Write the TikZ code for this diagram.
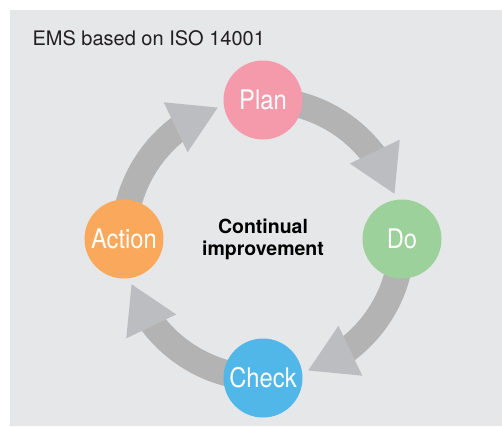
\documentclass[tikz,border=0pt]{standalone}
\usepackage{fontspec}
\setmainfont{TeX Gyre Heros}
\newfontfamily\narrowfont{TeX Gyre Heros}[FakeStretch=0.88]
\usetikzlibrary{backgrounds}

\definecolor{bggray}{RGB}{230,231,232}
\definecolor{bandgray}{RGB}{179,179,179}
\definecolor{headgray}{RGB}{188,189,192}
\definecolor{planpink}{RGB}{244,154,171}
\definecolor{dogreen}{RGB}{157,209,155}
\definecolor{checkblue}{RGB}{80,183,232}
\definecolor{actionorange}{RGB}{250,169,92}
\definecolor{titleblack}{RGB}{35,31,32}

\begin{document}
\begin{tikzpicture}[x=1pt,y=1pt,
  stage/.style={circle,minimum size=79pt,inner sep=0pt,text=white,
    font=\narrowfont\fontsize{27}{30}\selectfont},
  band/.style={draw=bandgray,line width=26pt},
  head/.style={fill=headgray}]
\useasboundingbox (-263,-187) rectangle (239,239);
\def\R{139}
\coordinate (c) at (0,0);

% the four stages
\node[stage,fill=planpink] (plan) at (90:\R) {Plan};
\node[stage,fill=dogreen] (do) at (0:\R) {Do};
\node[stage,fill=checkblue] (check) at (-90:\R) {Check};
\node[stage,fill=actionorange] (action) at (180:\R) {Action};

\node[align=center,font=\fontsize{19.5}{22}\selectfont\bfseries] (ci) at (c) {Continual\\improvement};
\node[anchor=base west,text=titleblack,font=\fontsize{20}{24}\selectfont] (title) at (-234,193.3) {EMS based on ISO 14001};

\begin{pgfonlayer}{background}
\fill[bggray] (-253,-187) rectangle (239,229);
\foreach \n/\a in {plan/90, do/0, check/-90, action/180}
	{\draw[band] (\n.center) arc[start angle=\a,end angle=\a-53,radius=\R];
	 \fill[head] (\a-49:115) -- (\a-54:169) -- (\a-71:139) -- cycle;};
\end{pgfonlayer}
\end{tikzpicture}
\end{document}
